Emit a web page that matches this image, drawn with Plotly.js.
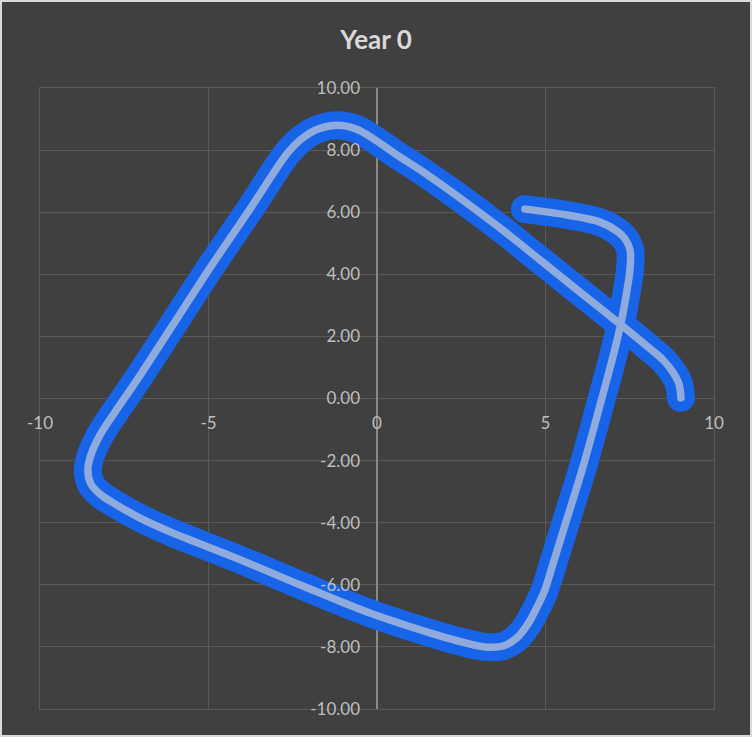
<!DOCTYPE html>
<html>
<head>
<meta charset="utf-8">
<script src="https://cdn.plot.ly/plotly-3.0.1.min.js"></script>
<style>
  html, body { margin: 0; padding: 0; background: #d9d9d9; }
  #chart { position: absolute; left: 2px; top: 2px; width: 748px; height: 733px; }
  .js-line { stroke-linecap: round; stroke-linejoin: round; }
</style>
</head>
<body>
<div id="chart"></div>
<script>
const chartTitle = "Year 0";
const xVals = [9.02, 8.96, 8.78, 8.49, 8.04, 7.21, 6.02, 4.84, 3.65, 2.46, 1.28, 0.53, -0.06, -0.62, -1.19, -1.75, -2.23, -2.64, -3.77, -4.96, -6.08, -7.12, -7.77, -8.22, -8.49, -8.58, -8.49, -8.22, -7.83, -7.03, -6.08, -4.18, -2.20, -0.21, 1.57, 2.40, 3.20, 3.74, 4.15, 4.48, 4.72, 4.96, 5.25, 5.58, 6.11, 6.65, 7.00, 7.24, 7.39, 7.51, 7.51, 7.36, 7.12, 6.62, 5.64, 4.39];
const yVals = [0.02, 0.47, 0.85, 1.24, 1.66, 2.40, 3.43, 4.46, 5.49, 6.46, 7.36, 7.89, 8.33, 8.68, 8.80, 8.68, 8.37, 7.93, 6.10, 4.20, 2.33, 0.60, -0.43, -1.18, -1.82, -2.30, -2.75, -3.08, -3.36, -3.85, -4.32, -5.14, -6.04, -6.91, -7.55, -7.81, -8.00, -7.97, -7.71, -7.26, -6.78, -6.23, -5.23, -4.07, -2.21, -0.08, 1.34, 2.43, 3.30, 4.20, 4.78, 5.14, 5.39, 5.68, 5.91, 6.10];
const xTicks = [-10, -5, 0, 5, 10];
const yTicks = [-10, -8, -6, -4, -2, 0, 2, 4, 6, 8, 10];

const tickFont = { family: 'Lato, "Open Sans", sans-serif', size: 17, color: '#bfbfbf' };

const traces = [
  { x: xVals, y: yVals, mode: 'lines', hoverinfo: 'skip',
    line: { color: '#1764e8', width: 28, shape: 'spline', smoothing: 1 } },
  { x: xVals, y: yVals, mode: 'lines', hoverinfo: 'skip',
    line: { color: '#8faadc', width: 7.5, shape: 'spline', smoothing: 1 } },
  { x: [], y: [], xaxis: 'x2', yaxis: 'y2', mode: 'lines', hoverinfo: 'skip' }
];

const layout = {
  width: 748, height: 733,
  margin: { l: 38, r: 36, t: 86, b: 26 },
  paper_bgcolor: '#404040',
  plot_bgcolor: '#404040',
  showlegend: false,
  title: {
    text: '<b>' + chartTitle + '</b>',
    font: { family: 'Lato, "Open Sans", sans-serif', size: 26, color: '#d9d9d9' },
    x: 0.5, xref: 'container', y: 1 - 38 / 733, yref: 'container', yanchor: 'middle'
  },
  xaxis: {
    range: [-10, 10], tickvals: xTicks, ticktext: xTicks.map(String),
    showgrid: true, gridcolor: '#595959', gridwidth: 1,
    zeroline: true, zerolinecolor: '#8a8a8a', zerolinewidth: 1.5,
    showline: false, ticks: '', anchor: 'free', position: 0.5,
    tickfont: tickFont, ticklabelstandoff: 12, fixedrange: true
  },
  yaxis: {
    range: [-10, 10], tickvals: yTicks, ticktext: yTicks.map(v => v.toFixed(2)),
    showgrid: true, gridcolor: '#595959', gridwidth: 1,
    zeroline: false, showline: false, ticks: '',
    anchor: 'free', position: 0.5,
    tickfont: tickFont, ticklabelstandoff: 17, fixedrange: true
  },
  xaxis2: {
    range: [-10, 10], overlaying: 'x', anchor: 'y2',
    showline: true, mirror: true, linecolor: '#595959', linewidth: 1,
    showgrid: false, zeroline: false, showticklabels: false, ticks: ''
  },
  yaxis2: {
    range: [-10, 10], overlaying: 'y', anchor: 'x2',
    showline: true, mirror: true, linecolor: '#595959', linewidth: 1,
    showgrid: false, zeroline: false, showticklabels: false, ticks: ''
  }
};

Plotly.newPlot('chart', traces, layout, { staticPlot: true, displayModeBar: false });
</script>
</body>
</html>
